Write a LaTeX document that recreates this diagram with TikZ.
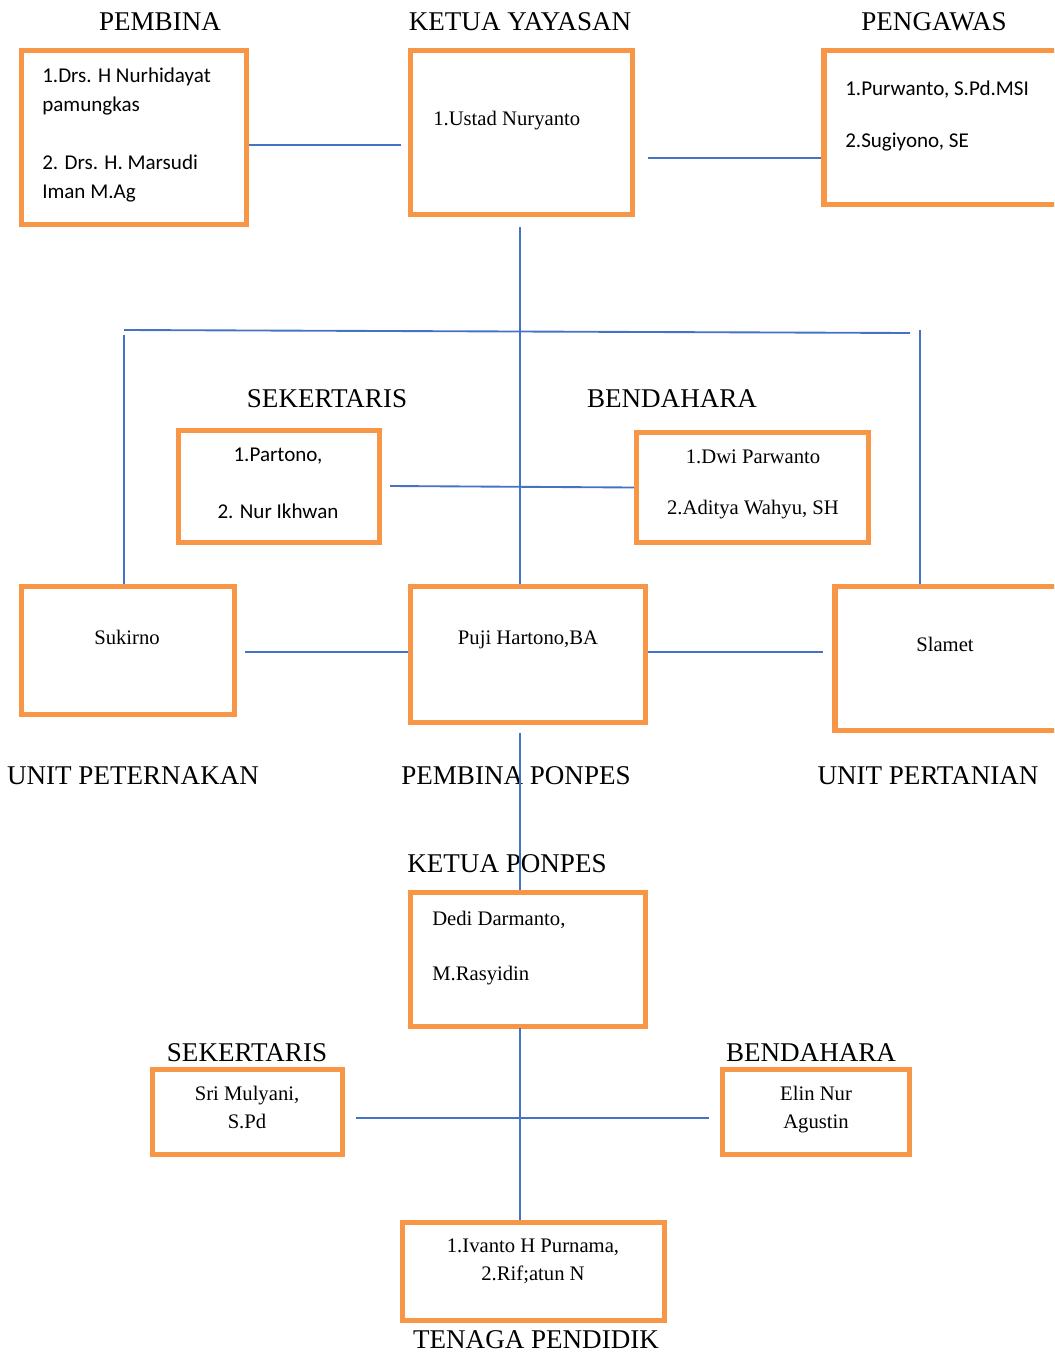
\documentclass[tikz,border=0pt]{standalone}
\usepackage{fontspec}
\setmainfont{Liberation Serif}
\newfontfamily\calibri{Carlito}
\usepackage{xcolor}
\definecolor{boxorange}{RGB}{247,150,70}
\definecolor{linkblue}{RGB}{68,114,196}
\tikzset{
  orgbox/.style 2 args={draw=boxorange, line width=4pt, minimum width={(#1-4)*0.75pt}, minimum height={(#2-4)*0.75pt}, inner sep=0pt},
  link/.style={draw=linkblue, line width=1.4pt},
  heading/.style={inner sep=0pt, font=\fontsize{20.3}{24}\selectfont},
  tnr/.style={inner sep=0pt, font=\fontsize{15.5}{21}\selectfont},
  cal/.style={inner sep=0pt, font=\calibri\fontsize{15.8}{21.75}\selectfont},
}

\begin{document}
\begin{tikzpicture}[x=0.75pt,y=0.75pt,yscale=-1,xscale=1]
\useasboundingbox (0,0) rectangle (1054,1353);
\clip (0,0) rectangle (1054,1353);

%Shape: Rectangle (yayasan)
\node [orgbox={229}{178}] (pembina) at (134,137.5) {};
\node [orgbox={226}{168}] (ketua) at (521.5,132.5) {};
\node [orgbox={248}{158}] (pengawas) at (946,127.5) {};
%Shape: Rectangle (sekertaris, bendahara)
\node [orgbox={205}{116}] (sek1) at (279,486.5) {};
\node [orgbox={236}{114}] (bend1) at (752.5,487.5) {};
%Shape: Rectangle (unit)
\node [orgbox={217}{132}] (sukirno) at (128,650.5) {};
\node [orgbox={239}{140}] (puji) at (528,654.5) {};
\node [orgbox={237}{148}] (slamet) at (951.5,658.5) {};
%Shape: Rectangle (ponpes)
\node [orgbox={239}{138}] (dedi) at (528,959.5) {};
\node [orgbox={194}{89}] (sek2) at (247.5,1112) {};
\node [orgbox={191}{89}] (bend2) at (816,1112) {};
\node [orgbox={266}{102}] (tenaga) at (533.5,1271.5) {};

% Text Node
\node [heading] (tpembina) at (160,22) {PEMBINA};
\node [heading] (tketua) at (520,22) {KETUA YAYASAN};
\node [heading] (tpengawas) at (934,22) {PENGAWAS};
\node [heading] (tsek1) at (327,399) {SEKERTARIS};
\node [heading] (tbend1) at (672,399) {BENDAHARA};
\node [heading] (tpeternakan) at (133,776) {UNIT PETERNAKAN};
\node [heading] (tpembpon) at (516,776) {PEMBINA PONPES};
\node [heading] (tpertanian) at (928,776) {UNIT PERTANIAN};
\node [heading] (tketpon) at (507,864) {KETUA PONPES};
\node [heading] (tsek2) at (247,1053) {SEKERTARIS};
\node [heading] (tbend2) at (811,1053) {BENDAHARA};
\node [heading] (ttenaga) at (536,1340) {TENAGA PENDIDIK};

% Text Node
\node [cal, anchor=north west, align=left] (npembina) at (42,68) {1.Drs. H Nurhidayat\\pamungkas\\[21.75pt]2. Drs. H. Marsudi\\Iman M.Ag};
\node [tnr, anchor=north west] (nketua) at (433,111) {1.Ustad Nuryanto};
\node [cal, anchor=north west, align=left] (npengawas) at (845,81) {1.Purwanto, S.Pd.MSI\\[17.25pt]2.Sugiyono, SE};
\node [cal, anchor=north, align=center] (nsek1) at (278,448) {1.Partono,\\[21pt]2. Nur Ikhwan};
\node [tnr, anchor=north, align=center] (nbend1) at (753,450) {1.Dwi Parwanto\\[17.25pt]2.Aditya Wahyu, SH};
\node [tnr] (nsukirno) at (127,637) {Sukirno};
\node [tnr] (npuji) at (528,640) {Puji Hartono,BA};
\node [tnr] (nslamet) at (945,644) {Slamet};
\node [tnr, anchor=north west, align=left] (ndedi) at (432,911) {Dedi Darmanto,\\[20.25pt]M.Rasyidin};
\node [tnr, anchor=north, align=center] (nsek2) at (247,1086) {Sri Mulyani,\\S.Pd};
\node [tnr, anchor=north, align=center] (nbend2) at (816,1086) {Elin Nur\\Agustin};
\node [tnr, anchor=north, align=center] (ntenaga) at (533,1239) {1.Ivanto H Purnama,\\2.Rif;atun N};

%Straight Lines
\coordinate (kL) at (401,145);
\draw [link] (pembina.east |- kL) -- (kL);
\coordinate (kR) at (648,158);
\draw [link] (kR) -- (kR -| pengawas.west);
\coordinate (kS) at (520,227);
\draw [link] (kS) -- (kS |- puji.north);
%Straight Lines (unit bar)
\coordinate (barL) at (124,330);
\coordinate (barR) at (910,333);
\draw [link] (barL) -- (barR);
\coordinate (uL) at (124,335);
\draw [link] (uL) -- (uL |- sukirno.north);
\coordinate (uR) at (920,330);
\draw [link] (uR) -- (uR |- slamet.north);
\coordinate (sL) at (390,486);
\draw [link] (sL) -- (bend1.west);
%Straight Lines (unit)
\coordinate (pL) at (245,652);
\draw [link] (pL) -- (pL -| puji.west);
\coordinate (pR) at (823,652);
\draw [link] (puji.east |- pR) -- (pR);
%Straight Lines (ponpes)
\coordinate (pS) at (520,733);
\draw [link] (pS) -- (pS |- dedi.north);
\coordinate (dS) at (520,1028);
\draw [link] (dS) -- (dS |- tenaga.north);
\coordinate (tL) at (356,1118);
\coordinate (tR) at (709,1118);
\draw [link] (tL) -- (tR);

\end{tikzpicture}
\end{document}
